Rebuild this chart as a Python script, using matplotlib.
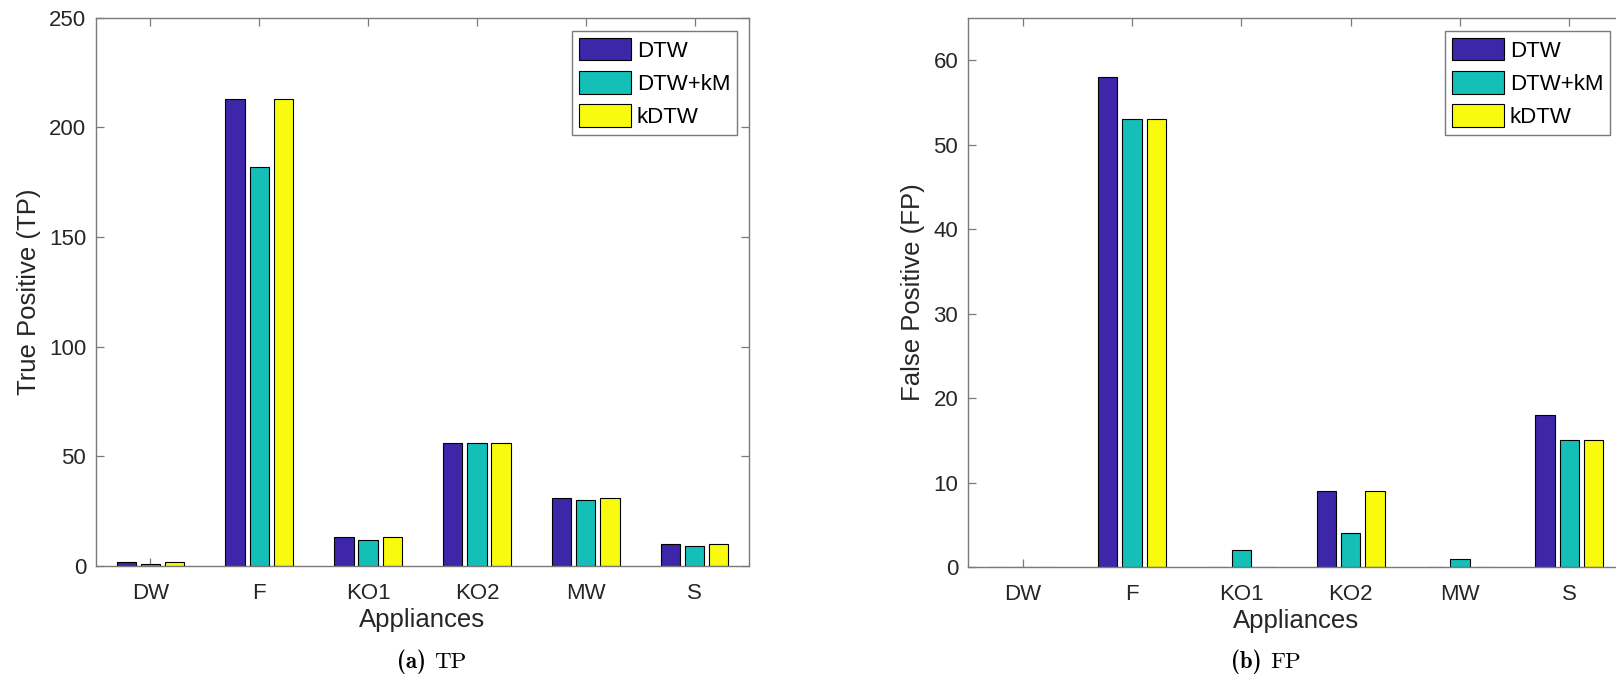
import numpy as np
import matplotlib.pyplot as plt
from matplotlib.patches import Patch

# data
appliances = ["DW", "F", "KO1", "KO2", "MW", "S"]
methods = ["DTW", "DTW+kM", "kDTW"]
tp_dtw = [2, 213, 13, 56, 31, 10]
tp_dtw_km = [1, 182, 12, 56, 30, 9]
tp_kdtw = [2, 213, 13, 56, 31, 10]
fp_dtw = [0, 58, 0, 9, 0, 18]
fp_dtw_km = [0, 53, 2, 4, 1, 15]
fp_kdtw = [0, 53, 0, 9, 0, 15]

colors = ["#3e26a8", "#14bfb8", "#f9fb0e"]
text_col = "#262626"
axis_col = "#7a7a7a"

plt.rcParams['font.family'] = ['Liberation Sans', 'DejaVu Sans']

fig = plt.figure(figsize=(16.16, 6.82), dpi=100)
W, H = 1616.0, 682.0
ax1 = fig.add_axes([96 / W, (H - 566) / H, (749 - 96) / W, (566 - 17.5) / H])
ax2 = fig.add_axes([968 / W, (H - 567) / H, (1624 - 968) / W, (567 - 18) / H])


def draw(ax, series, ylim, yticks, ylabel, leg_right_px, leg_top_px, ax_px):
    x = np.arange(1, len(appliances) + 1)
    step = 0.222
    for i, vals in enumerate(series):
        ax.bar(x + (i - 1) * step, vals, width=0.178, color=colors[i],
               edgecolor="black", linewidth=0.8, zorder=2)
    ax.set_xlim(0.5, 6.5)
    ax.set_ylim(*ylim)
    ax.set_yticks(yticks)
    ax.set_xticks(x)
    ax.set_xticklabels(appliances)
    ax.tick_params(direction="in", length=6, width=0.9, color=axis_col,
                   labelcolor=text_col, labelsize=16, top=True, right=True,
                   pad=7)
    ax.tick_params(axis="x", pad=12)
    for s in ax.spines.values():
        s.set_color(axis_col)
        s.set_linewidth(1.0)
        s.set_zorder(3)
    ax.set_xlabel("Appliances", fontsize=18.5, color=text_col, labelpad=3)
    ax.set_ylabel(ylabel, fontsize=18.5, color=text_col, labelpad=6)
    # legend anchored in pixel offsets from axes corner
    l, b, r, t = ax_px
    handles = [Patch(facecolor=c, edgecolor="black", linewidth=0.8) for c in colors]
    ax.legend(handles, methods, loc="upper right",
              bbox_to_anchor=((leg_right_px - l) / (r - l), (b - leg_top_px) / (b - t)),
              borderaxespad=0, fontsize=16, frameon=True, fancybox=False,
              edgecolor=axis_col, framealpha=1, handlelength=2.35,
              handleheight=1.2, handletextpad=0.25, labelspacing=0.42,
              borderpad=0.3).get_frame().set_linewidth(1.0)


draw(ax1, [tp_dtw, tp_dtw_km, tp_kdtw], (0, 250), np.arange(0, 251, 50),
     "True Positive (TP)", 737, 31, (96, 566, 749, 17.5))
draw(ax2, [fp_dtw, fp_dtw_km, fp_kdtw], (0, 65), np.arange(0, 61, 10),
     "False Positive (FP)", 1610, 31, (968, 567, 1624, 18))

# sub-figure captions
for cx, tag, name in [(426, "(a)", "TP"), (1262, "(b)", "FP")]:
    y = 1 - 662 / H
    fig.text(cx / W, y, tag, family="cmb10", fontsize=16.5,
             ha="right", va="center", color="black")
    fig.text(cx / W + 0.005, y, name, family="cmr10", fontsize=16.5,
             ha="left", va="center", color="black")

fig.savefig("out.png", dpi=100)
